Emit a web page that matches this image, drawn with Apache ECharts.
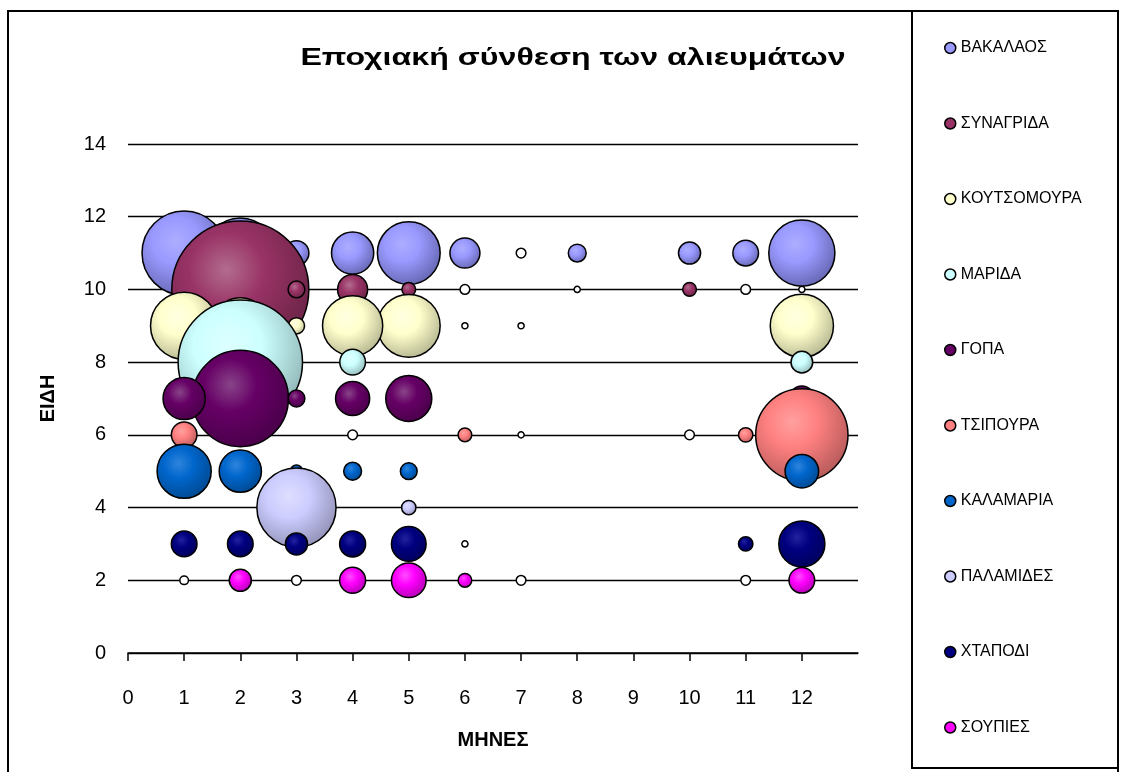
<!DOCTYPE html>
<html>
<head>
<meta charset="utf-8">
<script src="https://cdn.jsdelivr.net/npm/echarts@6/dist/echarts.min.js"></script>
<style>
html,body{margin:0;padding:0;background:#fff;}
#chart{width:1124px;height:772px;}
</style>
</head>
<body>
<div id="chart"></div>
<script>
// ---- Data (bubble size; negative values are drawn as hollow/white bubbles) ----
const seriesNames = ['ΒΑΚΑΛΑΟΣ','ΣΥΝΑΓΡΙΔΑ','ΚΟΥΤΣΟΜΟΥΡΑ','ΜΑΡΙΔΑ','ΓΟΠΑ','ΤΣΙΠΟΥΡΑ','ΚΑΛΑΜΑΡΙΑ','ΠΑΛΑΜΙΔΕΣ','ΧΤΑΠΟΔΙ','ΣΟΥΠΙΕΣ'];
const speciesY = [11,10,9,8,7,6,5,4,3,2];

const bakalaosMonths = [1,2,3,4,5,6,7,8,10,11,12];
const bakalaosSizes  = [378,263,33,95,210,48,-5,17,26,35,233];

const synagridaMonths = [2,3,4,5,6,8,10,11,12];
const synagridaSizes  = [1000,15,48,10,-5,-2,10,-5,-2];

const koutsomouraMonths = [1,2,3,4,5,6,7,12];
const koutsomouraSizes  = [241,168,14,193,210,-2,-2,213];

const maridaMonths = [2,4,12];
const maridaSizes  = [824,35,25];

const gopaMonths = [1,2,3,4,5,12];
const gopaSizes  = [95,494,15,62,113,33];

const tsipouraMonths = [1,4,6,7,10,11,12];
const tsipouraSizes  = [35,-5,10,-2,-5,11,454];

const kalamariaMonths = [1,2,3,4,5,12];
const kalamariaSizes  = [156,95,8,17,15,60];

const palamidesMonths = [3,5];
const palamidesSizes  = [334,11];

const xtapodiMonths = [1,2,3,4,5,6,11,12];
const xtapodiSizes  = [35,35,26,36,64,-2,11,113];

const soupiesMonths = [1,2,3,4,5,6,7,11,12];
const soupiesSizes  = [-4,26,-5,36,64,10,-5,-5,35];

const xTickLabels = [0,1,2,3,4,5,6,7,8,9,10,11,12];
const yTickLabels = [0,2,4,6,8,10,12,14];

const allMonths = [bakalaosMonths,synagridaMonths,koutsomouraMonths,maridaMonths,gopaMonths,tsipouraMonths,kalamariaMonths,palamidesMonths,xtapodiMonths,soupiesMonths];
const allSizes  = [bakalaosSizes,synagridaSizes,koutsomouraSizes,maridaSizes,gopaSizes,tsipouraSizes,kalamariaSizes,palamidesSizes,xtapodiSizes,soupiesSizes];

// ---- Styles ----
const baseColors = ['#9999FF','#993366','#FFFFCC','#CCFFFF','#660066','#FF8080','#0066CC','#CCCCFF','#000080','#FF00FF'];
const lightColors = ['#ADADFF','#B26C8E','#FFFFE2','#DDFFFF','#884488','#FFA0A0','#2E84DC','#DEDEFF','#22229E','#FF4CFF'];
const darkColors  = ['#6565B0','#6A2345','#B5B590','#90B5B5','#480048','#B55A5A','#00488F','#9090B5','#00005A','#B000B0'];

const MAX_SIZE = 1000;
const MAX_DIAM = 137;

function grad(i){
  return {type:'radial', x:0.4, y:0.36, r:0.68, colorStops:[
    {offset:0, color:lightColors[i]},
    {offset:0.4, color:baseColors[i]},
    {offset:1, color:darkColors[i]}
  ]};
}

const series = seriesNames.map((name,i)=>{
  const data = allMonths[i].map((m,k)=>[m, speciesY[i], allSizes[i][k]]);
  data.sort((a,b)=>Math.abs(b[2])-Math.abs(a[2]));
  return {
    name, type:'scatter', data,
    symbol:'circle',
    symbolSize: v => MAX_DIAM*Math.sqrt(Math.abs(v[2])/MAX_SIZE),
    itemStyle:{
      color: p => p.value[2] < 0 ? '#FFFFFF' : grad(i),
      borderColor:'#000', borderWidth:1.5, opacity:1
    },
    emphasis:{disabled:true},
    z: 2
  };
});

const FONT = 'Liberation Sans, Arial, sans-serif';
const chart = echarts.init(document.getElementById('chart'), null, {renderer:'canvas'});
chart.setOption({
  animation:false,
  color: baseColors,
  textStyle:{fontFamily:FONT},
  grid:{left:128, top:144, width:730, height:509, containLabel:false},
  xAxis:{
    type:'value', min:0, max:13, interval:1,
    name:'ΜΗΝΕΣ', nameLocation:'middle', nameGap:77,
    nameTextStyle:{fontSize:20, fontWeight:'bold', color:'#000'},
    axisLine:{show:true, lineStyle:{color:'#000', width:1.5}},
    axisTick:{show:true, length:8, lineStyle:{color:'#000', width:1.5}, customValues:xTickLabels},
    axisLabel:{fontSize:20, color:'#000', margin:35, customValues:xTickLabels},
    splitLine:{show:false}
  },
  yAxis:{
    type:'value', min:0, max:14, interval:2,
    name:'ΕΙΔΗ', nameLocation:'middle', nameGap:70, nameRotate:90,
    nameTextStyle:{fontSize:20, fontWeight:'bold', color:'#000'},
    axisLine:{show:false}, axisTick:{show:false},
    axisLabel:{fontSize:20, color:'#000', margin:22, customValues:yTickLabels},
    splitLine:{show:true, lineStyle:{color:'#000', width:1.3}}
  },
  legend:{
    orient:'vertical', left:944, top:40, padding:0,
    itemGap:59.5, itemWidth:11, itemHeight:11, icon:'circle',
    textStyle:{fontSize:16, color:'#000'},
    data: seriesNames.map((n,i)=>({name:n, itemStyle:{color:baseColors[i], borderColor:'#000', borderWidth:1.5}})),
    selectedMode:false
  },
  graphic:[
    {type:'rect', shape:{x:8, y:11, width:1110, height:800}, style:{fill:null, stroke:'#000', lineWidth:2}, silent:true, z:-1},
    {type:'rect', shape:{x:912, y:11, width:206, height:757}, style:{fill:null, stroke:'#000', lineWidth:2}, silent:true, z:-1},
    {type:'text', x:573, y:58, scaleX:1.34, silent:true,
     style:{text:'Εποχιακή σύνθεση των αλιευμάτων', font:'bold 24px ' + FONT, fill:'#000', textAlign:'center', textVerticalAlign:'middle'}}
  ],
  series
});
</script>
</body>
</html>
